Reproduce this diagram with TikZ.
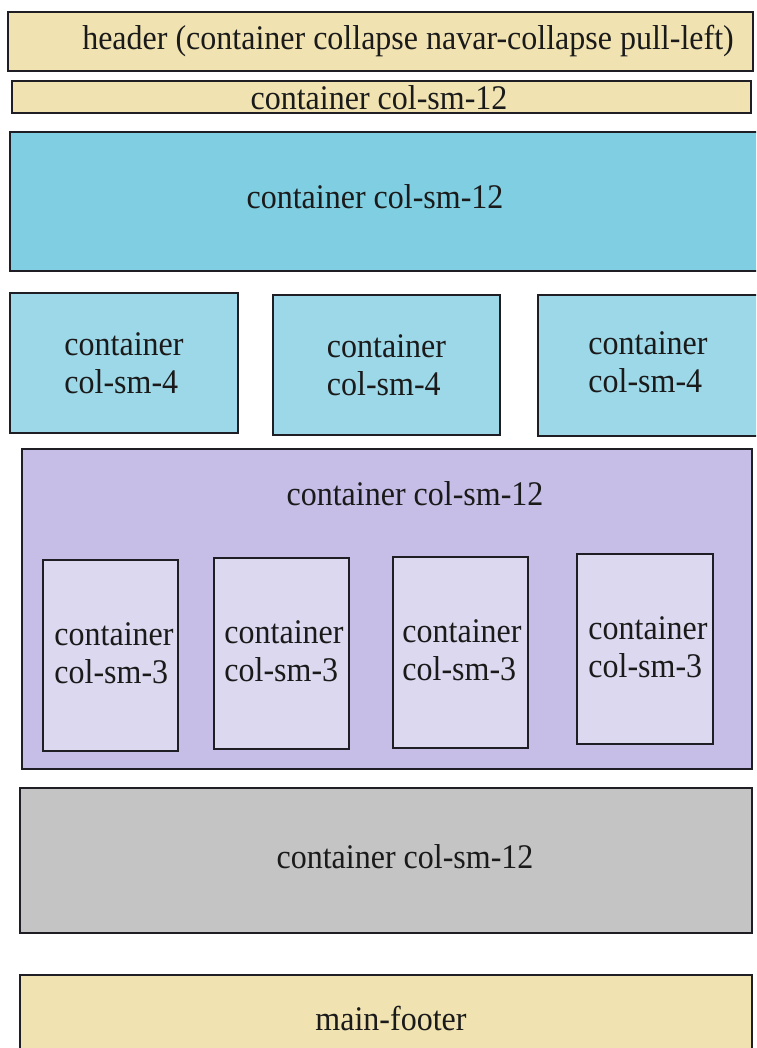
\documentclass[tikz,border=0pt]{standalone}
\usepackage{fontspec}
\usepackage{graphicx}
\setmainfont{Liberation Serif}
\usetikzlibrary{fit}
\definecolor{sand}{HTML}{F0E3B1}
\definecolor{skyA}{HTML}{80CEE1}
\definecolor{skyB}{HTML}{9DD8E8}
\definecolor{lilacA}{HTML}{C6BEE6}
\definecolor{lilacB}{HTML}{DCD8F0}
\definecolor{stone}{HTML}{C4C4C4}
\definecolor{edge}{HTML}{1E1E24}
\definecolor{ink}{HTML}{1A1A1A}
% slightly taller letter shapes
\newcommand\tallline[1]{\scalebox{1}[1.08]{#1}}
\begin{document}
\begin{tikzpicture}[x=1pt,y=-1pt,
  panel/.style={draw=edge, line width=2pt, inner sep=0pt},
  lbl/.style={font=\fontsize{32}{38}\selectfont, text=ink, align=left, inner sep=0pt}]
\useasboundingbox (0,0) rectangle (756,1048);
\fill[white] (0,0) rectangle (756,1048);
\begin{scope}
\clip (0,0) rectangle (756,1048);
% page header and navigation bar
\node[panel, fill=sand, fit={(8,12) (753,71)}] (header) {};
\node[lbl] (headertxt) at (408,41) {\tallline{header (container collapse navar-collapse pull-left)}};
\node[panel, fill=sand, fit={(12,81) (751,113)}] (nav) {};
\node[lbl] (navtxt) at (379,98) {\tallline{container col-sm-12}};
% banner
\node[panel, fill=skyA, fit={(10,132) (770,271)}] (banner) {};
\node[lbl] (bannertxt) at (375,197) {\tallline{container col-sm-12}};
% three columns
\node[panel, fill=skyB, fit={(10,293) (238,433)}] (c4a) {};
\node[lbl] at (c4a.center) {\tallline{container}\\\tallline{col-sm-4}};
\node[panel, fill=skyB, fit={(273,295) (500,435)}] (c4b) {};
\node[lbl] at (c4b.center) {\tallline{container}\\\tallline{col-sm-4}};
\node[panel, fill=skyB, fit={(538,295) (770,436)}] (c4c) {};
\node[lbl] at (648,362) {\tallline{container}\\\tallline{col-sm-4}};
% four columns inside a row
\node[panel, fill=lilacA, fit={(22,449) (752,769)}] (row) {};
\node[lbl] (rowtxt) at (415,494) {\tallline{container col-sm-12}};
\node[panel, fill=lilacB, fit={(43,560) (178,751)}] (c3a) {};
\node[lbl] at (114,653) {\tallline{container}\\\tallline{col-sm-3}};
\node[panel, fill=lilacB, fit={(214,558) (349,749)}] (c3b) {};
\node[lbl] at (284,651) {\tallline{container}\\\tallline{col-sm-3}};
\node[panel, fill=lilacB, fit={(393,557) (528,748)}] (c3c) {};
\node[lbl] at (462,650) {\tallline{container}\\\tallline{col-sm-3}};
\node[panel, fill=lilacB, fit={(577,554) (713,744)}] (c3d) {};
\node[lbl] at (648,647) {\tallline{container}\\\tallline{col-sm-3}};
% content block and footer
\node[panel, fill=stone, fit={(20,788) (752,933)}] (content) {};
\node[lbl] (contenttxt) at (405,857) {\tallline{container col-sm-12}};
\node[panel, fill=sand, fit={(20,975) (752,1070)}] (footer) {};
\node[lbl] (footertxt) at (391,1018) {\tallline{main-footer}};
\end{scope}
\end{tikzpicture}
\end{document}
